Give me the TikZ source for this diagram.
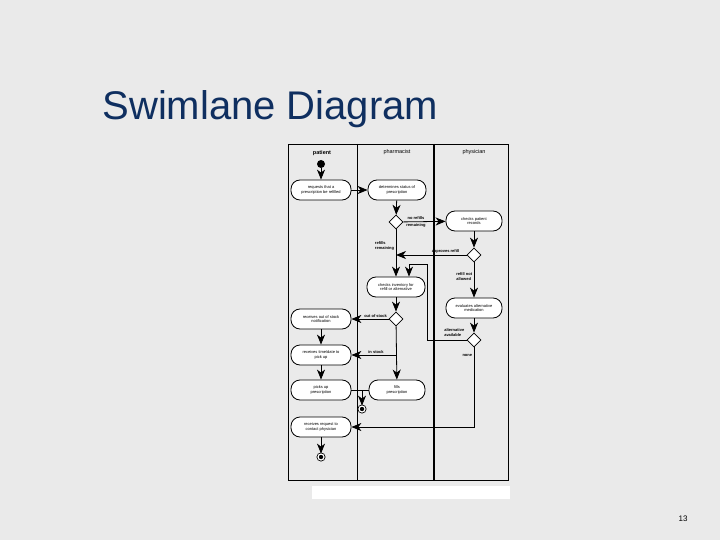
\documentclass[tikz,border=0pt]{standalone}
\usepackage{fontspec}
\setmainfont{Liberation Sans}
\usetikzlibrary{arrows.meta,shapes.geometric}
\definecolor{slidegray}{HTML}{EAEAEA}
\definecolor{titleblue}{HTML}{0F2F60}
\tikzset{
  act/.style={draw, thick, fill=white, rounded corners=9pt, minimum width=60pt, minimum height=20pt,
    align=center, inner sep=1pt, font=\fontsize{4}{4.8}\selectfont},
  choice/.style={draw, thick, fill=white, diamond, minimum size=14pt, inner sep=0pt},
  startdot/.style={circle, fill=black, minimum size=8pt, inner sep=0pt},
  enddot/.style={circle, fill=black, draw=black, line width=0.8pt, double=white, double distance=1.2pt,
    minimum size=6pt, inner sep=0pt},
  flow/.style={thick, -{Stealth[length=10pt,width=8pt,inset=3pt]}},
  lbl/.style={font=\fontsize{4}{4.8}\selectfont\bfseries, align=left, inner sep=1.5pt},
  lanehead/.style={font=\fontsize{5.5}{6}\selectfont}
}
\begin{document}
\begin{tikzpicture}[x=1pt, y=-1pt]
	\fill[slidegray] (0,0) rectangle (720,540);
	\useasboundingbox (0,0) rectangle (720,540);
	\node[anchor=west, text=titleblue, font=\fontsize{40}{42}\selectfont] (title) at (99,109) {Swimlane Diagram};
	\node[font=\fontsize{8}{9}\selectfont] (page) at (683,519) {13};

	\fill[white] (312,486) rectangle (510,499);
	\draw[thick] (288,144) rectangle (508,480);
	\draw[thick] (357,144) -- (357,480);
	\draw[line width=1.6pt] (434,144) -- (434,480);
	\node[lanehead, font=\fontsize{5.5}{6}\selectfont\bfseries] (patient) at (322,153) {patient};
	\node[lanehead] (pharmacist) at (397,152) {pharmacist};
	\node[lanehead] (physician) at (474,152) {physician};

	\node[startdot] (start) at (321,164) {};
	\node[act] (request) at (321,190) {requests that a\\prescription be refilled};
	\node[act, minimum width=58pt] (status) at (397,190) {determines status of\\prescription};
	\node[choice] (norefill) at (396,222) {};
	\node[act, minimum width=56pt] (records) at (474,221) {checks patient\\records};
	\node[choice] (approve) at (474,255) {};
	\coordinate (merge) at (396,255);
	\node[act, minimum width=58pt] (inventory) at (396,287) {checks inventory for\\refill or alternative};
	\node[act, minimum width=56pt] (alternative) at (474,308) {evaluates alternative\\medication};
	\node[choice] (stock) at (396,319) {};
	\node[act] (outstock) at (321,319) {receives out of stock\\notification};
	\node[choice] (available) at (474,340) {};
	\coordinate (back) at (427,264);
	\node[act] (timedate) at (321,355) {receives time/date to\\pick up};
	\node[act] (pickup) at (321,390) {picks up\\prescription};
	\node[act, minimum width=56pt] (fill) at (397,390) {fills\\prescription};
	\coordinate (join) at (362,390);
	\node[enddot] (done) at (362,409) {};
	\node[act] (contact) at (321,427) {receives request to\\contact physician};
	\node[enddot] (stop) at (321,457) {};

	\draw[flow] (start) -- (request);
	\draw[flow] (request) -- (status);
	\draw[flow] (status) -- (norefill);
	\draw[flow] (norefill) -- node[lbl, pos=0.3, above] {no refills} node[lbl, pos=0.3, below] {remaining} (records);
	\draw[flow] (norefill) -- node[lbl, pos=0.35, left] {refills\\remaining} (inventory);
	\draw[flow] (records) -- (approve);
	\draw[flow] (approve) -- node[lbl, pos=0.3, above] {approves refill} (merge);
	\draw[flow] (approve) -- node[lbl, pos=0.4, left] {refill not\\allowed} (alternative);
	\draw[flow] (alternative) -- (available);
	\draw[flow] (available) -| (back) -| ([xshift=13pt]inventory.north);
	\node[lbl, anchor=south east] (availlbl) at (466,338) {alternative\\available};
	\draw[flow] (available) -- node[lbl, pos=0.1, left] {none} (available |- contact) -- (contact);
	\draw[flow] (inventory) -- (stock);
	\draw[flow] (stock) -- node[lbl, pos=0.35, above] {out of stock} (outstock);
	\draw[flow] (stock) -- (fill);
	\draw[flow] (stock |- timedate) -- node[lbl, pos=0.45, above] {in stock} (timedate);
	\draw[flow] (outstock) -- (timedate);
	\draw[flow] (timedate) -- (pickup);
	\draw[thick] (pickup) -- (fill);
	\draw[flow] (join) -- (done);
	\draw[flow] (contact) -- (stop);
\end{tikzpicture}
\end{document}
